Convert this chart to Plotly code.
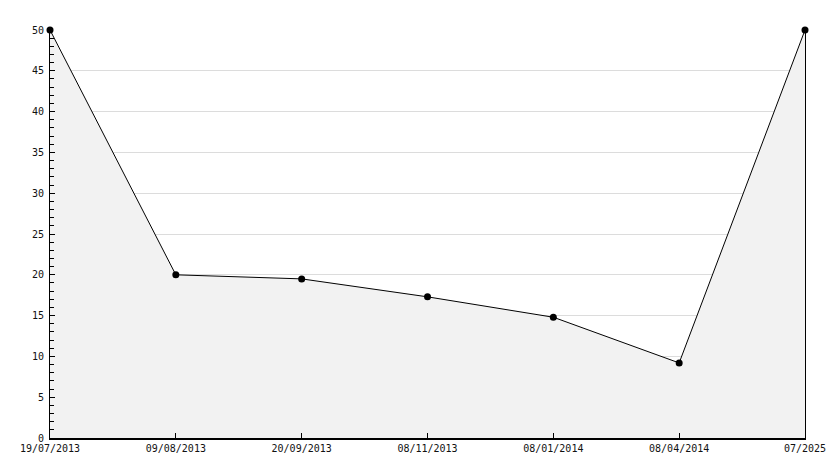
import plotly.graph_objects as go

labels = ["19/07/2013", "09/08/2013", "20/09/2013", "08/11/2013", "08/01/2014", "08/04/2014", "07/2025"]
values = [50, 20, 19.5, 17.3, 14.8, 9.2, 50]
y_ticks = [0, 5, 10, 15, 20, 25, 30, 35, 40, 45, 50]

xs = list(range(len(labels)))

fig = go.Figure()
fig.add_trace(go.Scatter(
    x=xs, y=values, mode="lines+markers",
    line=dict(color="black", width=1),
    marker=dict(color="black", size=7, symbol="circle"),
    fill="tozeroy", fillcolor="#f2f2f2",
    cliponaxis=False, hoverinfo="skip"
))

font = dict(family="DejaVu Sans Mono", size=10, color="#111")
fig.update_layout(
    width=834, height=468,
    margin=dict(l=50, r=29, t=30, b=30),
    plot_bgcolor="white", paper_bgcolor="white",
    showlegend=False,
    font=font,
    xaxis=dict(
        range=[0, len(labels) - 1],
        tickvals=xs, ticktext=labels,
        ticks="inside", ticklen=5, tickcolor="black",
        showgrid=False, zeroline=False,
        showline=True, linecolor="black", linewidth=2,
        tickfont=font, automargin=False,
    ),
    yaxis=dict(
        range=[0, 50],
        tickvals=y_ticks,
        ticks="inside", ticklen=5, tickcolor="black",
        minor=dict(dtick=1, ticks="inside", ticklen=4, tickcolor="black", showgrid=False),
        showgrid=True, gridcolor="#dcdcdc", gridwidth=1,
        zeroline=False,
        showline=True, linecolor="black", linewidth=1, mirror=True,
        tickfont=font, automargin=False, ticklabelstandoff=3,
    ),
)
fig.write_html("out.html", config={"displayModeBar": False},
               post_script="document.body.style.margin='0';")
